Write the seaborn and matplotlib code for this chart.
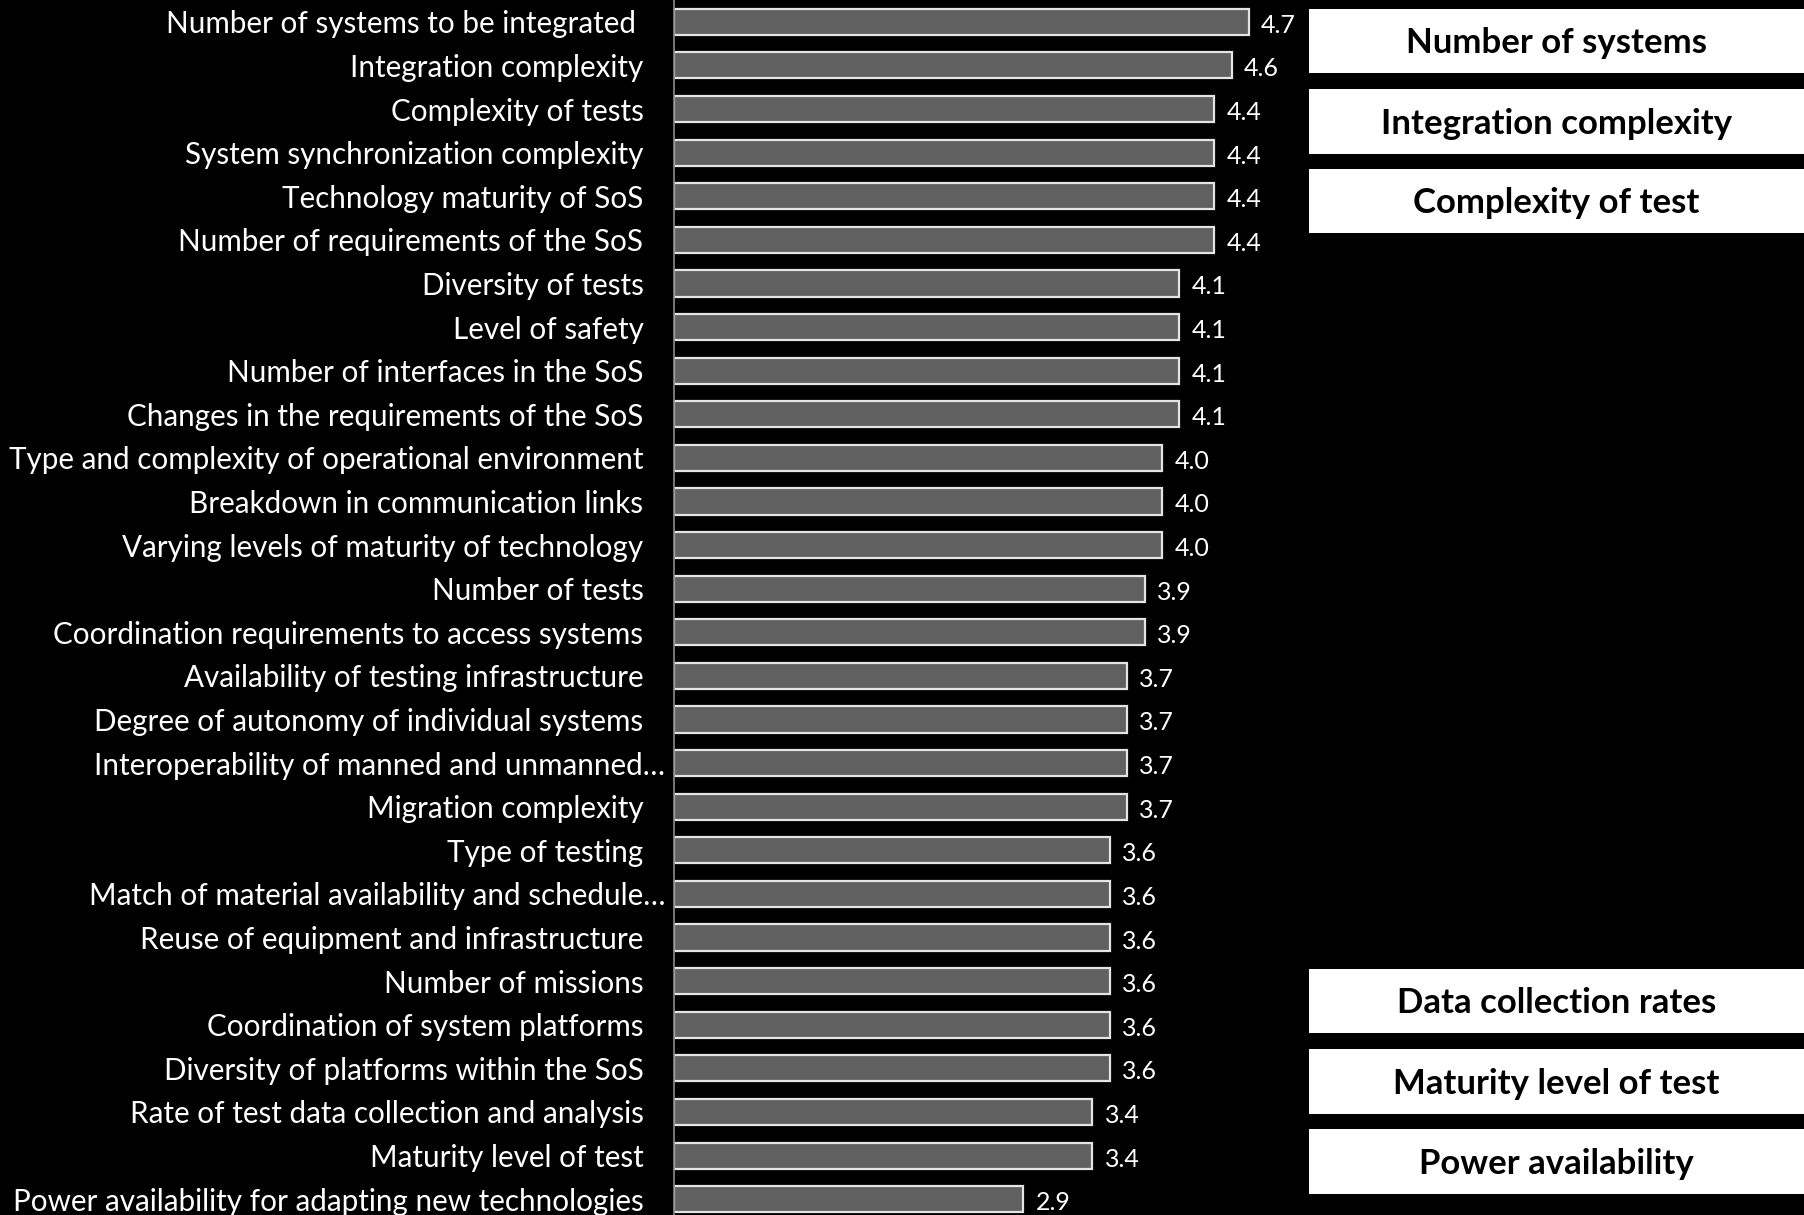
# Ranking of SoS test complexity factors (mean score), with key factors boxed
import matplotlib
matplotlib.use('Agg')
import matplotlib.pyplot as plt
import matplotlib.transforms as mtransforms
from matplotlib.patches import Rectangle
import pandas as pd
import seaborn as sns

# data (bar lengths; labels show one decimal)
factors = [
    'Number of systems to be integrated',
    'Integration complexity',
    'Complexity of tests',
    'System synchronization complexity',
    'Technology maturity of SoS',
    'Number of requirements of the SoS',
    'Diversity of tests',
    'Level of safety',
    'Number of interfaces in the SoS',
    'Changes in the requirements of the SoS',
    'Type and complexity of operational environment',
    'Breakdown in communication links',
    'Varying levels of maturity of technology',
    'Number of tests',
    'Coordination requirements to access systems',
    'Availability of testing infrastructure',
    'Degree of autonomy of individual systems',
    'Interoperability of manned and unmanned…',
    'Migration complexity',
    'Type of testing',
    'Match of material availability and schedule…',
    'Reuse of equipment and infrastructure',
    'Number of missions',
    'Coordination of system platforms',
    'Diversity of platforms within the SoS',
    'Rate of test data collection and analysis',
    'Maturity level of test',
    'Power availability for adapting new technologies',
]
scores = [4.71, 4.57, 4.43, 4.43, 4.43, 4.43, 4.14, 4.14, 4.14, 4.14, 4.00, 4.00,
          4.00, 3.86, 3.86, 3.71, 3.71, 3.71, 3.71, 3.57, 3.57, 3.57, 3.57, 3.57,
          3.57, 3.43, 3.43, 2.86]

top_boxes = ['Number of systems', 'Integration complexity', 'Complexity of test']
bottom_boxes = ['Data collection rates', 'Maturity level of test', 'Power availability']

df = pd.DataFrame({'factor': factors, 'score': scores})

sns.set_style('white')
plt.rcParams['font.family'] = ['Lato', 'DejaVu Sans']
plt.rcParams['figure.facecolor'] = 'black'
plt.rcParams['axes.facecolor'] = 'black'

W, H = 1804, 1215
fig = plt.figure(figsize=(W / 100, H / 100), dpi=100)
ax = fig.add_axes([674 / W, -6 / H, (1309 - 674) / W, (H + 6) / H])

sns.barplot(data=df, x='score', y='factor', orient='h', color='#606060',
            saturation=1, edgecolor='#e4e4e4', linewidth=1.6, width=0.6, ax=ax)

ax.set_xlim(0, 635 / 122)
ax.set_xlabel('')
ax.set_ylabel('')
ax.set_xticks([])
for side in ['top', 'right', 'bottom']:
    ax.spines[side].set_visible(False)
ax.spines['left'].set_color('#8c8c8c')
ax.spines['left'].set_linewidth(1.2)
ax.tick_params(axis='y', length=0, pad=22, labelsize=21.3, labelcolor='white')

# Excel-style nudges: truncated labels run closer to the axis
for lab in ax.get_yticklabels():
    txt = lab.get_text()
    if txt.endswith('…'):
        dx = 22
    elif txt == 'Number of systems to be integrated':
        dx = -7
    else:
        continue
    lab.set_transform(lab.get_transform() +
                      mtransforms.ScaledTranslation(dx / 100, 0, fig.dpi_scale_trans))

vals = ax.bar_label(ax.containers[0], fmt='%.1f', padding=9, color='white', fontsize=18)
for t in vals:
    # sit the numbers a touch below the bar centre, as in the original
    t.xyann = (t.xyann[0], t.xyann[1] - 2.5)

# white callout boxes on the right
box_rows = [(9, 73), (89, 154), (169, 233), (969, 1033), (1049, 1114), (1129, 1194)]
for label, (t, b) in zip(top_boxes + bottom_boxes, box_rows):
    fig.patches.append(Rectangle((1309 / W, 1 - b / H), (W - 1309) / W, (b - t) / H,
                                 transform=fig.transFigure, facecolor='white',
                                 edgecolor='none'))
    fig.text((1309 + W) / 2 / W, 1 - ((t + b) / 2 + 2) / H, label, ha='center',
             va='center', fontsize=25, fontweight='bold', color='black')

fig.savefig('out.png', dpi=100, facecolor='black')
